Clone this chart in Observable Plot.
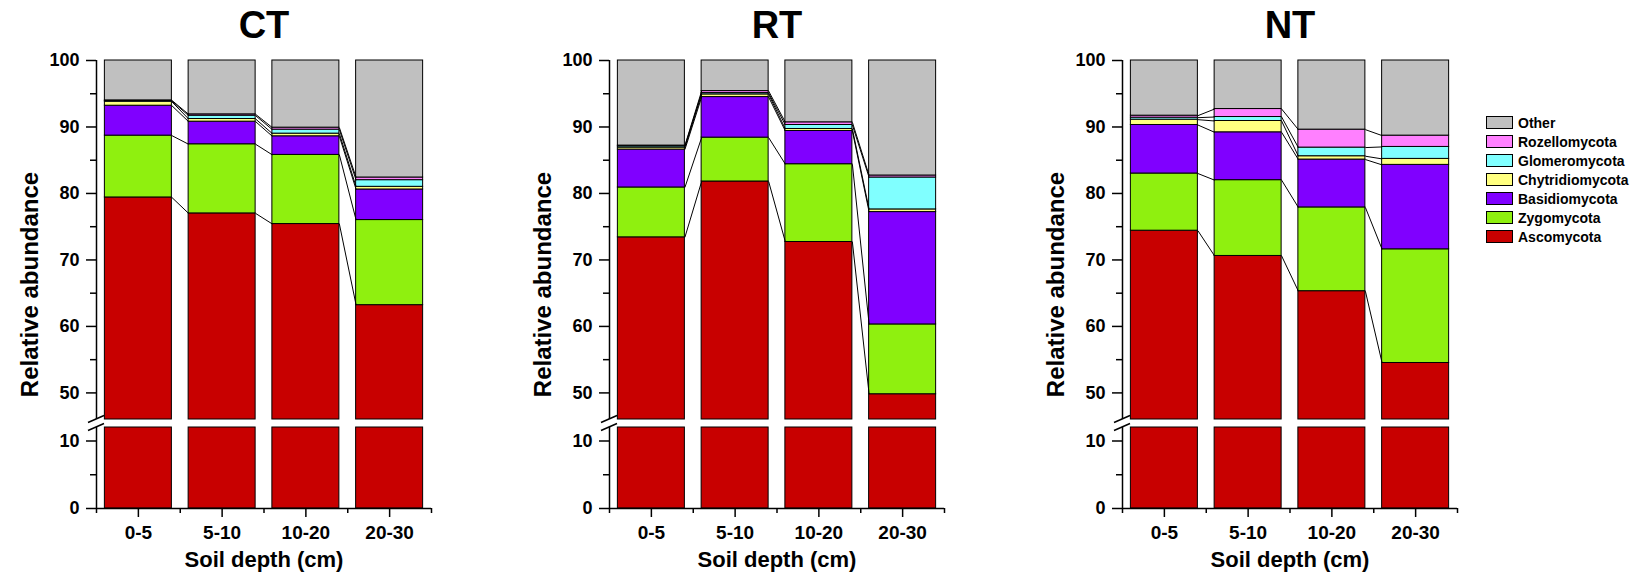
<!DOCTYPE html>
<html>
<head>
<meta charset="utf-8">
<script src="https://cdn.jsdelivr.net/npm/d3@7"></script>
<script src="https://cdn.jsdelivr.net/npm/@observablehq/plot@0.6"></script>
<style>
  html, body { margin: 0; padding: 0; background: #fff; }
  #wrap { position: relative; width: 1631px; height: 573px; overflow: hidden; font-family: "Liberation Sans", Arial, sans-serif; }
  .panel { position: absolute; top: 0; }
  #legend { position: absolute; left: 1486px; top: 113px; }
  .lrow { display: flex; align-items: center; height: 19.05px; white-space: nowrap; }
  .sw { width: 25px; height: 11px; border: 1px solid #000; margin-right: 5px; flex: none; }
  .lt { font-size: 14px; font-weight: bold; color: #000; }
</style>
</head>
<body>
<div id="wrap"></div>
<script>
// ---- data ----
const tillages = ["CT", "RT", "NT"];
const depths = ["0-5", "5-10", "10-20", "20-30"];
const phyla = ["Ascomycota", "Zygomycota", "Basidiomycota", "Chytridiomycota", "Glomeromycota", "Rozellomycota", "Other"];
const phylumColors = ["#c80000", "#8ff00f", "#8000ff", "#ffff80", "#80ffff", "#ff80ff", "#c0c0c0"];
// each array: [CT depths], [RT depths], [NT depths]
const ascomycota      = [[79.4, 77.0, 75.4, 63.2], [73.4, 81.8, 72.7, 49.8], [74.4, 70.6, 65.3, 54.5]];
const zygomycota      = [[9.3, 10.4, 10.4, 12.8],  [7.5, 6.6, 11.7, 10.5],   [8.6, 11.4, 12.6, 17.1]];
const basidiomycota   = [[4.5, 3.4, 2.8, 4.6],     [5.7, 6.1, 5.0, 16.9],    [7.3, 7.2, 7.2, 12.7]];
const chytridiomycota = [[0.6, 0.4, 0.4, 0.4],     [0.3, 0.4, 0.3, 0.4],     [0.8, 1.7, 0.5, 0.9]];
const glomeromycota   = [[0.1, 0.5, 0.6, 1.0],     [0.2, 0.2, 0.6, 4.8],     [0.3, 0.6, 1.3, 1.8]];
const rozellomycota   = [[0.1, 0.2, 0.3, 0.4],     [0.1, 0.3, 0.4, 0.3],     [0.3, 1.2, 2.7, 1.7]];
const other           = [[6.0, 8.1, 10.1, 17.6],   [12.8, 4.6, 9.3, 17.3],   [8.3, 7.3, 10.4, 11.3]];
const series = [ascomycota, zygomycota, basidiomycota, chytridiomycota, glomeromycota, rozellomycota, other];

const yMajorTicks = [0, 10, 50, 60, 70, 80, 90, 100];
const yMinorTicks = [5, 55, 65, 75, 85, 95];
const breakLow = 12, breakHigh = 46;     // axis break
const xDomain = [-0.5, 3.5];
const half = 0.4;                         // half bar width (band units)

const font = '"Liberation Sans", Arial, sans-serif';
const wrap = document.getElementById("wrap");

tillages.forEach((t, p) => {
  const segments = [];
  const cum = depths.map((d, i) => {
    let base = 0;
    const tops = [];
    series.forEach((arr, k) => {
      const top = Math.min(100, base + arr[p][i]);
      for (const [lo, hi] of [[0, breakLow], [breakHigh, 100]]) {
        const a = Math.max(base, lo), b = Math.min(top, hi);
        if (b > a) segments.push({x1: i - half, x2: i + half, y1: a, y2: b, phylum: phyla[k]});
      }
      tops.push(top);
      base = top;
    });
    return tops;
  });
  const connectors = [];
  for (let i = 0; i < depths.length - 1; i++) {
    for (let k = 0; k < phyla.length - 1; k++) {
      connectors.push({x1: i + half, x2: i + 1 - half, y1: cum[i][k], y2: cum[i + 1][k]});
    }
  }

  const breakMarks = (index, scales) => {
    const g = d3.create("svg:g");
    const x0 = scales.x(xDomain[0]);
    for (const v of [breakHigh, breakLow]) {
      const y = scales.y(v);
      g.append("line").attr("x1", x0 - 8).attr("y1", y + 3.5).attr("x2", x0 + 8).attr("y2", y - 3.5)
        .attr("stroke", "black").attr("stroke-width", 1.5);
    }
    return g.node();
  };

  const chart = Plot.plot({
    width: 513,
    height: 573,
    marginLeft: 96,
    marginRight: 82,
    marginTop: 60,
    marginBottom: 65,
    style: {fontFamily: font, fontWeight: "bold", color: "black", background: "transparent"},
    x: {type: "linear", domain: xDomain, label: null},
    y: {type: "linear", domain: [0, breakLow, breakHigh, 100], range: [508, 427, 419, 60], label: null},
    color: {domain: phyla, range: phylumColors},
    marks: [
      Plot.rect(segments, {x1: "x1", x2: "x2", y1: "y1", y2: "y2", fill: "phylum", stroke: "black", strokeWidth: 1}),
      Plot.link(connectors, {x1: "x1", x2: "x2", y1: "y1", y2: "y2", stroke: "black", strokeWidth: 1}),
      Plot.ruleX([{y1: 0, y2: breakLow}, {y1: breakHigh, y2: 100}], {x: () => xDomain[0], y1: "y1", y2: "y2", stroke: "black", strokeWidth: 1.5}),
      Plot.ruleY([0], {stroke: "black", strokeWidth: 1.5}),
      breakMarks,
      Plot.axisY(yMajorTicks, {tickSize: 10, tickPadding: 7, tickFormat: d => String(d), fontSize: 18, fontWeight: "bold", strokeWidth: 1.5, label: null}),
      Plot.axisY(yMinorTicks, {tickSize: 6, tickFormat: () => "", strokeWidth: 1.5, label: null}),
      Plot.axisX([0, 1, 2, 3], {tickSize: 9, tickPadding: 8, tickFormat: i => depths[i], fontSize: 19, fontWeight: "bold", strokeWidth: 1.5, label: null}),
      Plot.axisX([-0.5, 0.5, 1.5, 2.5, 3.5], {tickSize: 5, tickFormat: () => "", strokeWidth: 1.5, label: null}),
      Plot.text([t], {frameAnchor: "top", dy: -35, lineAnchor: "middle", fontSize: 38, fontWeight: "bold", fill: "black"}),
      Plot.text(["Relative abundance"], {frameAnchor: "left", dx: -66, rotate: -90, lineAnchor: "middle", textAnchor: "middle", fontSize: 24, fontWeight: "bold", fill: "black"}),
      Plot.text(["Soil depth (cm)"], {frameAnchor: "bottom", dy: 51, lineAnchor: "middle", fontSize: 22, fontWeight: "bold", fill: "black"})
    ]
  });
  chart.classList.add("panel");
  chart.style.left = (513 * p) + "px";
  wrap.appendChild(chart);
});

// legend (top to bottom: Other ... Ascomycota)
const legend = document.createElement("div");
legend.id = "legend";
phyla.slice().reverse().forEach(name => {
  const row = document.createElement("div");
  row.className = "lrow";
  const sw = document.createElement("div");
  sw.className = "sw";
  sw.style.background = phylumColors[phyla.indexOf(name)];
  const lt = document.createElement("span");
  lt.className = "lt";
  lt.textContent = name;
  row.appendChild(sw);
  row.appendChild(lt);
  legend.appendChild(row);
});
wrap.appendChild(legend);
</script>
</body>
</html>
